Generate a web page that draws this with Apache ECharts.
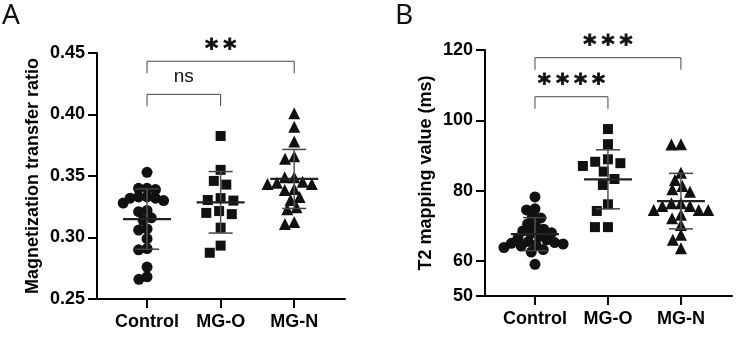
<!DOCTYPE html>
<html>
<head>
<meta charset="utf-8">
<script src="https://cdn.jsdelivr.net/npm/echarts@6/dist/echarts.min.js"></script>
<style>
html, body { margin: 0; padding: 0; background: #fff; }
#chart { width: 748px; height: 347px; }
</style>
</head>
<body>
<div id="chart"></div>
<script>
var groups = ['Control', 'MG-O', 'MG-N'];
var symbols = ['circle', 'rect', 'triangle'];
var symbolSizes = [11, 10, 12];
var swarmGap = [8.5, 13, 9.5];

// panel A: magnetization transfer ratio
var mtrControl = [0.353, 0.340, 0.340, 0.339, 0.333, 0.332, 0.333, 0.332, 0.330, 0.328, 0.322,
    0.321, 0.316, 0.314, 0.307, 0.306, 0.299, 0.291, 0.290, 0.276, 0.268, 0.266];
var mtrMgO = [0.3825, 0.355, 0.346, 0.343, 0.332, 0.3305, 0.330, 0.3215, 0.320, 0.319, 0.308, 0.2934, 0.2876];
var mtrMgN = [0.401, 0.390, 0.378, 0.366, 0.364, 0.349, 0.349, 0.3454, 0.3446, 0.3435, 0.3435,
    0.3394, 0.3386, 0.333, 0.3305, 0.3245, 0.3229, 0.3126, 0.311];
var mtrMean = [0.315, 0.3286, 0.3476];
var mtrSd = [0.0245, 0.025, 0.024];
var mtrTicks = [0.25, 0.30, 0.35, 0.40, 0.45];
var mtrBrackets = [[1, 2, 0.4164], [1, 3, 0.4433]];
var mtrBracketText = ['ns', '**'];

// panel B: T2 mapping value
var t2Control = [78.2, 74.8, 74.5, 72.5, 72.2, 70.5, 69.8, 69.0, 68.5, 68.0, 67.8, 67.0,
    66.5, 66.0, 65.5, 65.2, 65.0, 64.8, 64.5, 64.2, 63.8, 63.2, 62.5, 59.0];
var t2MgO = [97.5, 93.2, 88.9, 88.2, 87.8, 87.0, 85.4, 83.3, 81.6, 76.1, 74.2, 69.6, 69.6];
var t2MgN = [93.1, 93.2, 85.1, 83.0, 81.3, 80.4, 79.7, 76.4, 76.4, 75.6, 75.6, 74.5, 74.5,
    74.5, 73.1, 72.1, 70.2, 67.4, 66.0, 63.6];
var t2Mean = [67.6, 83.2, 77.0];
var t2Sd = [4.7, 8.4, 7.9];
var t2Ticks = [50, 60, 80, 100, 120];
var t2Brackets = [[1, 2, 106.7], [1, 3, 117.8]];
var t2BracketText = ['****', '***'];

var gridA = { left: 97, top: 53, width: 248, height: 246 };
var gridB = { left: 485, top: 50, width: 247, height: 246 };
var xRangeA = [0.32, 3.69];
var xRangeB = [0.315, 3.70];
var yRangeA = [0.25, 0.45];
var yRangeB = [50, 120];
var textFont = 'Liberation Sans';

// simple beeswarm so points of similar value sit side by side
function swarm(values, center, kx, ky, d) {
    var placed = [];
    var out = [];
    var order = values.map(function (v, i) { return i; })
        .sort(function (a, b) { return values[b] - values[a]; });
    order.forEach(function (i) {
        var py = values[i] * ky;
        var bad = [];
        placed.forEach(function (p) {
            var dy = Math.abs(p[1] - py);
            if (dy < d) {
                var w = Math.sqrt(d * d - dy * dy);
                bad.push([p[0] - w, p[0] + w]);
            }
        });
        var cands = [0];
        bad.forEach(function (b) { cands.push(b[0], b[1]); });
        cands.sort(function (a, b) { return Math.abs(a) - Math.abs(b); });
        var x = cands.find(function (c) {
            return bad.every(function (b) { return c <= b[0] + 1e-6 || c >= b[1] - 1e-6; });
        });
        placed.push([x, py]);
        out[i] = [center + x / kx, values[i]];
    });
    return out;
}

function pointSeries(idx, lists, grid, xr, yr) {
    var kx = grid.width / (xr[1] - xr[0]);
    var ky = grid.height / (yr[1] - yr[0]);
    return lists.map(function (vals, g) {
        return {
            type: 'scatter',
            xAxisIndex: idx, yAxisIndex: idx,
            symbol: symbols[g],
            symbolSize: symbolSizes[g],
            itemStyle: { color: '#111', opacity: 1 },
            z: 2,
            data: swarm(vals, g + 1, kx, ky, swarmGap[g])
        };
    });
}

function errorBars(idx, means, sds) {
    return {
        type: 'custom',
        xAxisIndex: idx, yAxisIndex: idx,
        z: 5,
        data: means.map(function (m, i) { return [i + 1, m, sds[i]]; }),
        renderItem: function (params, api) {
            var x = api.value(0), m = api.value(1), s = api.value(2);
            var c = api.coord([x, m]);
            var hi = api.coord([x, m + s]);
            var lo = api.coord([x, m - s]);
            var st = { stroke: '#444', lineWidth: 1.5 };
            return {
                type: 'group',
                children: [
                    { type: 'line', shape: { x1: c[0], y1: hi[1], x2: c[0], y2: lo[1] }, style: { stroke: '#555', lineWidth: 1.5 } },
                    { type: 'line', shape: { x1: c[0] - 12, y1: hi[1], x2: c[0] + 12, y2: hi[1] }, style: st },
                    { type: 'line', shape: { x1: c[0] - 12, y1: lo[1], x2: c[0] + 12, y2: lo[1] }, style: st },
                    { type: 'line', shape: { x1: c[0] - 24, y1: c[1], x2: c[0] + 24, y2: c[1] }, style: { stroke: '#222', lineWidth: 2.2 } }
                ]
            };
        }
    };
}

function brackets(idx, list, texts) {
    return {
        type: 'custom',
        xAxisIndex: idx, yAxisIndex: idx,
        z: 6,
        data: list,
        renderItem: function (params, api) {
            var a = api.coord([api.value(0), api.value(2)]);
            var b = api.coord([api.value(1), api.value(2)]);
            var txt = texts[params.dataIndex];
            var star = txt.indexOf('*') >= 0;
            return {
                type: 'group',
                children: [
                    {
                        type: 'polyline',
                        shape: { points: [[a[0], a[1] + 12], [a[0], a[1]], [b[0], b[1]], [b[0], b[1] + 12]] },
                        style: { stroke: '#444', lineWidth: 1, fill: null }
                    },
                    {
                        type: 'text',
                        x: (a[0] + b[0]) / 2,
                        y: a[1] - (star ? 12 : 18),
                        style: {
                            text: star ? txt.split('').join('\u2009') : txt,
                            fontFamily: star ? 'DejaVu Sans' : textFont,
                            fontWeight: star ? 'bold' : 'normal',
                            fontSize: star ? 25 : 19,
                            fill: '#111',
                            stroke: star ? '#111' : null,
                            lineWidth: star ? 0.8 : 0,
                            align: 'center',
                            verticalAlign: 'middle'
                        }
                    }
                ]
            };
        }
    };
}

function xAxis(idx, xr) {
    return {
        type: 'value', gridIndex: idx, min: xr[0], max: xr[1],
        axisLine: { lineStyle: { color: '#000', width: 2 } },
        axisTick: { show: true, customValues: [1, 2, 3], length: 9, lineStyle: { color: '#000', width: 2 } },
        axisLabel: {
            customValues: [1, 2, 3], margin: 14,
            formatter: function (v) { return groups[Math.round(v) - 1]; },
            color: '#000', fontSize: 18, fontWeight: 'bold', fontFamily: textFont
        },
        splitLine: { show: false }
    };
}

function yAxis(idx, yr, ticks, step, name, gap, fmt) {
    return {
        type: 'value', gridIndex: idx, min: yr[0], max: yr[1], interval: step,
        name: name, nameLocation: 'middle', nameGap: gap,
        nameTextStyle: { color: '#000', fontSize: 18, fontWeight: 'bold', fontFamily: textFont },
        axisLine: { show: true, lineStyle: { color: '#000', width: 2 } },
        axisTick: { show: true, customValues: ticks, length: 9, lineStyle: { color: '#000', width: 2 } },
        axisLabel: {
            customValues: ticks, margin: 12, formatter: fmt,
            color: '#000', fontSize: 18, fontWeight: 'bold', fontFamily: textFont
        },
        splitLine: { show: false }
    };
}

var chart = echarts.init(document.getElementById('chart'));
var option = {
    animation: false,
    backgroundColor: '#fff',
    title: [
        { text: 'A', left: 0, top: 0, padding: 2, textStyle: { fontSize: 28, fontWeight: 'normal', fontFamily: 'Noto Sans', color: '#111' } },
        { text: 'B', left: 393, top: 0, padding: 2, textStyle: { fontSize: 28, fontWeight: 'normal', fontFamily: 'Noto Sans', color: '#111' } }
    ],
    grid: [gridA, gridB],
    xAxis: [xAxis(0, xRangeA), xAxis(1, xRangeB)],
    yAxis: [
        yAxis(0, yRangeA, mtrTicks, 0.05, 'Magnetization transfer ratio', 55, function (v) { return v.toFixed(2); }),
        yAxis(1, yRangeB, t2Ticks, 10, 'T2 mapping value (ms)', 50, function (v) { return String(v); })
    ],
    series: []
        .concat(pointSeries(0, [mtrControl, mtrMgO, mtrMgN], gridA, xRangeA, yRangeA))
        .concat(pointSeries(1, [t2Control, t2MgO, t2MgN], gridB, xRangeB, yRangeB))
        .concat([
            errorBars(0, mtrMean, mtrSd),
            errorBars(1, t2Mean, t2Sd),
            brackets(0, mtrBrackets, mtrBracketText),
            brackets(1, t2Brackets, t2BracketText)
        ])
};
chart.setOption(option);
</script>
</body>
</html>
